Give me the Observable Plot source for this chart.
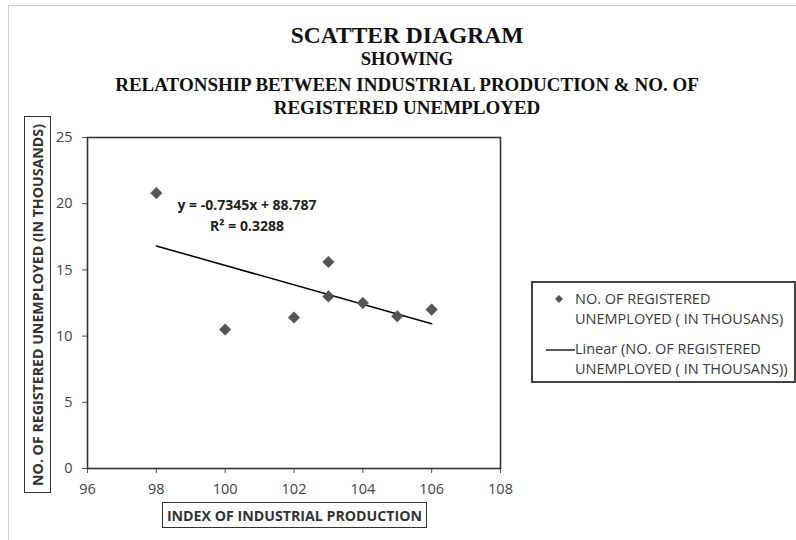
<!DOCTYPE html>
<html>
<head>
<meta charset="utf-8">
<script src="https://cdn.jsdelivr.net/npm/d3@7"></script>
<script src="https://cdn.jsdelivr.net/npm/@observablehq/plot@0.6"></script>
<style>
  html, body { margin: 0; padding: 0; background: #fff; }
  #wrap { position: relative; width: 796px; height: 540px; overflow: hidden; font-family: "Open Sans", sans-serif; }
  #wrap svg.plot { position: absolute; left: 0; top: 0; }
  .border-left { position: absolute; left: 8px; top: 5px; width: 1px; height: 540px; background: #cfcfcf; }
  .border-top { position: absolute; left: 8px; top: 5px; width: 800px; height: 1px; background: #cfcfcf; }
  .title { position: absolute; left: 0; width: 814px; text-align: center; font-family: "Liberation Serif", "Times New Roman", serif; font-weight: bold; color: #111; line-height: 1; white-space: nowrap; }
  .ylab { position: absolute; left: 24px; top: 116px; width: 27px; height: 377px; border: 1.5px solid #333; box-sizing: border-box; display: flex; align-items: center; justify-content: center; }
  .ylab span { writing-mode: vertical-rl; transform: rotate(180deg); font-weight: bold; font-size: 14.2px; color: #333; white-space: nowrap; }
  .xlab { position: absolute; left: 162px; top: 502px; width: 265px; height: 26px; border: 1.5px solid #333; box-sizing: border-box; display: flex; align-items: center; justify-content: center; font-weight: bold; font-size: 14.2px; color: #333; white-space: nowrap; }
  .legend { position: absolute; left: 531px; top: 281px; width: 265px; height: 102px; border: 2px solid #444; box-sizing: border-box; font-size: 14.5px; color: #3a3a3a; }
  .legend .item { position: absolute; left: 42px; line-height: 20px; white-space: nowrap; }
  .legend svg { position: absolute; }
</style>
</head>
<body>
<div id="wrap">
  <div class="border-left"></div>
  <div class="border-top"></div>
</div>
<script>
// ---- data ----
const industrialIndex = [98, 100, 102, 103, 103, 104, 105, 106];
const unemployedThousands = [20.8, 10.5, 11.4, 15.6, 13.0, 12.5, 11.5, 12.0];
const xTicks = [96, 98, 100, 102, 104, 106, 108];
const yTicks = [0, 5, 10, 15, 20, 25];
const titleLines = ["SCATTER DIAGRAM", "SHOWING", "RELATONSHIP BETWEEN INDUSTRIAL PRODUCTION & NO. OF", "REGISTERED UNEMPLOYED"];
const equationLines = ["y = -0.7345x + 88.787", "R² = 0.3288"];
const xTitle = "INDEX OF INDUSTRIAL PRODUCTION";
const yTitle = "NO. OF REGISTERED UNEMPLOYED (IN THOUSANDS)";
const seriesName = ["NO. OF REGISTERED", "UNEMPLOYED ( IN THOUSANS)"];
const trendName = ["Linear (NO. OF REGISTERED", "UNEMPLOYED ( IN THOUSANS))"];

const data = industrialIndex.map((x, i) => ({x, y: unemployedThousands[i]}));

const wrap = document.getElementById("wrap");

const eqStyle = {text: d => d, frameAnchor: "top-left", textAnchor: "middle", lineAnchor: "middle", dx: 159.5, fontWeight: "bold", fontSize: 14, fill: "#222"};

const chart = Plot.plot({
  width: 796,
  height: 540,
  marginLeft: 87,
  marginRight: 296,
  marginTop: 137,
  marginBottom: 72,
  style: {fontFamily: "Open Sans, sans-serif", fontSize: "14px", color: "#444", background: "transparent"},
  x: {domain: [96, 108]},
  y: {domain: [0, 25]},
  marks: [
    Plot.axisX({ticks: xTicks, tickSize: 5, tickPadding: 10, label: null, stroke: "#555", fill: "#444", fontSize: 14.5}),
    Plot.axisY({ticks: yTicks, tickSize: 5, tickPadding: 10, label: null, stroke: "#555", fill: "#444", fontSize: 14.5}),
    Plot.frame({stroke: "#333", strokeWidth: 1.6}),
    Plot.linearRegressionY(data, {x: "x", y: "y", ci: 0, stroke: "#000", strokeWidth: 1.5}),
    Plot.dot(data, {x: "x", y: "y", symbol: "diamond2", r: 5.2, fill: "#555", stroke: "#444", strokeWidth: 0.5}),
    Plot.text(equationLines.slice(0, 1), {...eqStyle, dy: 68}),
    Plot.text(equationLines.slice(1, 2), {...eqStyle, dy: 89})
  ]
});
chart.classList.add("plot");
wrap.appendChild(chart);

// titles
const titleSpecs = [
  {size: 23.5, top: 24},
  {size: 18.5, top: 50},
  {size: 19, top: 75},
  {size: 19, top: 98}
];
titleLines.forEach((t, i) => {
  const d = document.createElement("div");
  d.className = "title";
  d.style.fontSize = titleSpecs[i].size + "px";
  d.style.top = titleSpecs[i].top + "px";
  d.textContent = t;
  wrap.appendChild(d);
});

// axis titles
const yl = document.createElement("div");
yl.className = "ylab";
yl.innerHTML = `<span>${yTitle}</span>`;
wrap.appendChild(yl);
const xl = document.createElement("div");
xl.className = "xlab";
xl.textContent = xTitle;
wrap.appendChild(xl);

// legend
const lg = document.createElement("div");
lg.className = "legend";
lg.innerHTML = `
  <svg width="12" height="12" style="left:20px;top:10px"><path d="M6,2L10,6L6,10L2,6Z" fill="#555"/></svg>
  <div class="item" style="top:6px">${seriesName[0]}<br>${seriesName[1]}</div>
  <svg width="30" height="4" style="left:13px;top:65px"><line x1="0" x2="29" y1="2" y2="2" stroke="#000" stroke-width="1.3"/></svg>
  <div class="item" style="top:56px">${trendName[0]}<br>${trendName[1]}</div>`;
wrap.appendChild(lg);
</script>
</body>
</html>
